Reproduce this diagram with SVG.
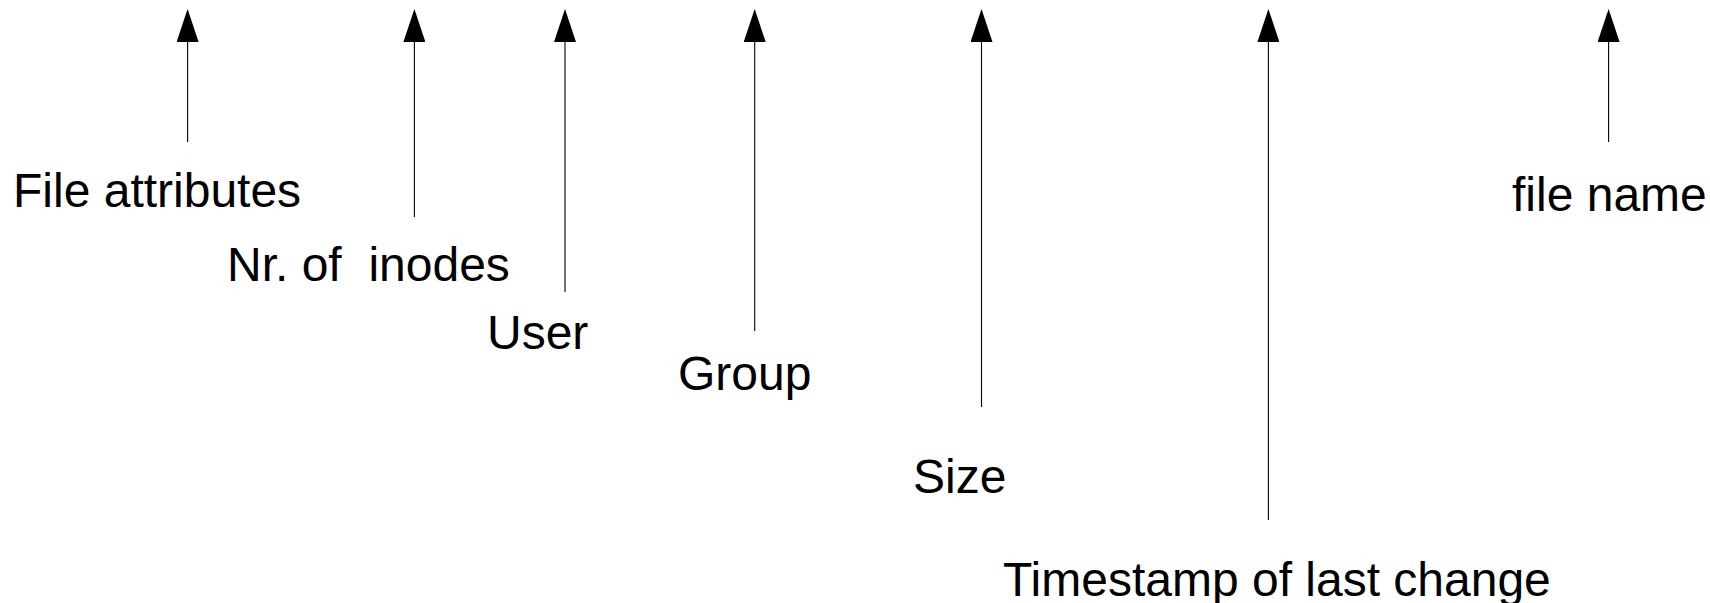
<svg xmlns="http://www.w3.org/2000/svg" width="1710" height="603" viewBox="0 0 1710 603">
<style>
.lbl{font-family:"Liberation Sans",Arial,sans-serif;font-size:48px;fill:#000;white-space:pre}
.conn line{stroke:#000;stroke-width:1.1;marker-end:url(#ah)}
</style>
<defs>
<marker id="ah" viewBox="0 0 33 22" refX="0" refY="11" markerWidth="33" markerHeight="22" markerUnits="userSpaceOnUse" orient="auto">
<path d="M0,0 L33,11 L0,22 z" fill="#000"/>
</marker>
</defs>
<rect width="1710" height="603" fill="#fff"/>
<g id="connectors" class="conn">
<line x1="187.6" y1="142" x2="187.6" y2="42"/>
<line x1="414.4" y1="217" x2="414.4" y2="42"/>
<line x1="565" y1="292" x2="565" y2="42"/>
<line x1="754.7" y1="331" x2="754.7" y2="42"/>
<line x1="981.5" y1="407" x2="981.5" y2="42"/>
<line x1="1268.4" y1="520" x2="1268.4" y2="42"/>
<line x1="1608.6" y1="142" x2="1608.6" y2="42"/>
</g>
<g id="file-attributes"><text class="lbl" x="13" y="207">File attributes</text></g>
<g id="nr-of-inodes"><text class="lbl" x="227" y="281" xml:space="preserve">Nr. of  inodes</text></g>
<g id="user"><text class="lbl" x="487" y="349">User</text></g>
<g id="group"><text class="lbl" x="678" y="390">Group</text></g>
<g id="size"><text class="lbl" x="913" y="493">Size</text></g>
<g id="timestamp"><text class="lbl" x="1003" y="596">Timestamp of last change</text></g>
<g id="file-name"><text class="lbl" x="1512" y="211">file name</text></g>
</svg>
